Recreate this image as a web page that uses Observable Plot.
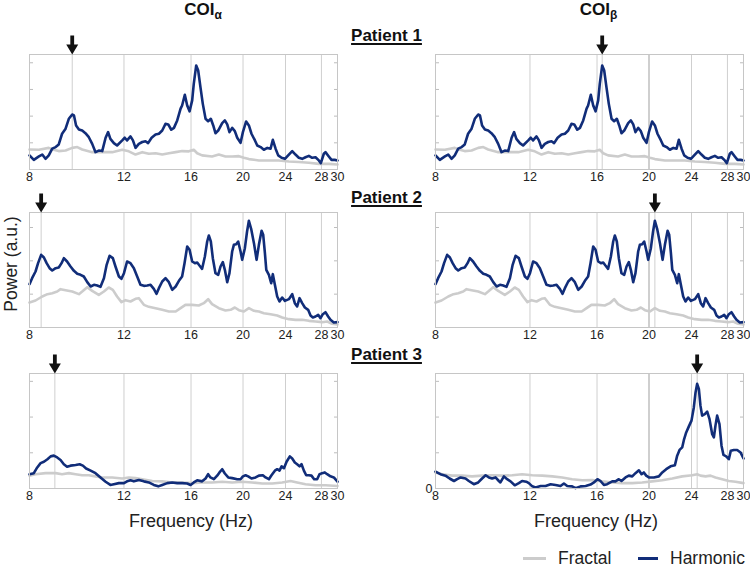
<!DOCTYPE html>
<html><head><meta charset="utf-8">
<script src="https://cdn.jsdelivr.net/npm/d3@7"></script>
<script src="https://cdn.jsdelivr.net/npm/@observablehq/plot@0.6"></script>
<style>
body{margin:0;background:#fff;}
#root{position:relative;width:750px;height:570px;font-family:"Liberation Sans",Arial,sans-serif;color:#222;overflow:hidden;background:#fff;}
.t{position:absolute;white-space:nowrap;line-height:1;}
.plot{position:absolute;}
</style></head><body><div id="root"></div>
<script>
// ---------- data ----------
const xTicks = [8, 12, 16, 20, 24, 28, 30];
const gridFreqs = [12, 16, 20, 24, 28];
const columnTitles = ["COI", "COI"];
const columnSubs = ["α", "β"];
const patientLabels = ["Patient 1", "Patient 2", "Patient 3"];
const seriesNames = ["Fractal", "Harmonic"];
const peaksAlpha = [9.61, 8.41, 8.92];
const peaksBeta = [16.36, 20.51, 24.59];

const p1Harmonic = [[8.00,0.53],[8.15,0.36],[8.33,0.49],[8.45,0.56],[8.57,0.40],[8.69,0.53],[8.82,0.78],[8.95,0.84],[9.07,0.94],[9.20,1.34],[9.34,1.53],[9.47,1.90],[9.61,2.06],[9.68,2.03],[9.77,1.65],[9.89,1.50],[10.03,1.46],[10.17,1.36],[10.32,1.21],[10.47,0.96],[10.62,0.65],[10.77,0.71],[10.93,0.69],[11.09,1.19],[11.21,1.40],[11.32,1.15],[11.49,0.99],[11.65,0.90],[11.91,1.09],[12.04,1.19],[12.16,1.09],[12.34,1.24],[12.47,1.09],[12.61,0.81],[12.79,0.96],[12.98,1.03],[13.16,1.06],[13.31,0.99],[13.51,1.19],[13.74,1.31],[13.94,1.34],[14.14,1.46],[14.34,1.71],[14.51,1.69],[14.70,1.49],[14.87,1.56],[15.08,1.84],[15.30,2.28],[15.40,2.40],[15.58,2.80],[15.74,2.40],[15.90,2.18],[16.08,2.59],[16.19,3.21],[16.36,3.90],[16.50,3.71],[16.66,3.09],[16.83,2.46],[17.03,1.90],[17.22,1.81],[17.42,1.90],[17.60,1.65],[17.77,1.36],[17.98,1.46],[18.29,1.74],[18.50,1.84],[18.69,1.69],[18.87,1.40],[19.09,1.56],[19.31,1.44],[19.51,1.19],[19.79,1.00],[19.99,1.40],[20.27,1.80],[20.51,1.65],[20.74,1.34],[21.05,1.09],[21.26,0.90],[21.57,0.84],[21.87,0.74],[22.20,0.81],[22.51,0.78],[22.73,1.11],[23.00,0.78],[23.26,0.53],[23.60,0.44],[23.94,0.40],[24.35,0.56],[24.70,0.69],[25.05,0.56],[25.41,0.44],[25.78,0.40],[26.15,0.46],[26.53,0.51],[26.91,0.44],[27.30,0.46],[27.69,0.34],[27.93,0.24],[28.29,0.59],[28.49,0.65],[28.90,0.49],[29.24,0.36],[29.66,0.36],[30.00,0.34]];
const p1Fractal = [[8.00,0.75],[8.33,0.74],[8.69,0.81],[8.88,0.74],[9.07,0.69],[9.34,0.71],[9.61,0.81],[9.82,0.84],[10.03,0.75],[10.47,0.65],[10.93,0.65],[11.41,0.65],[11.91,0.74],[12.25,0.68],[12.61,0.56],[12.98,0.65],[13.35,0.59],[13.74,0.61],[14.14,0.56],[14.55,0.61],[14.98,0.65],[15.40,0.69],[15.85,0.68],[16.19,0.74],[16.43,0.61],[16.78,0.53],[17.51,0.49],[18.03,0.56],[18.55,0.49],[19.09,0.49],[19.65,0.50],[20.08,0.44],[20.51,0.39],[21.41,0.34],[22.35,0.34],[23.33,0.34],[24.35,0.30],[25.41,0.28],[26.53,0.25],[27.69,0.21],[28.90,0.21],[30.00,0.19]];

const p2Harmonic = [[8.00,1.30],[8.09,1.48],[8.21,1.68],[8.30,1.93],[8.41,2.18],[8.51,2.10],[8.61,1.93],[8.72,1.78],[8.82,1.71],[8.95,1.78],[9.07,1.80],[9.18,1.93],[9.27,2.08],[9.40,1.98],[9.54,1.83],[9.68,1.70],[9.82,1.61],[9.96,1.58],[10.10,1.53],[10.25,1.36],[10.40,1.23],[10.55,1.28],[10.70,1.26],[10.85,1.22],[11.01,1.48],[11.14,1.88],[11.28,2.15],[11.44,2.08],[11.57,1.83],[11.74,1.53],[11.87,1.46],[12.00,1.63],[12.16,1.98],[12.34,1.93],[12.52,1.78],[12.70,1.53],[12.88,1.28],[13.07,1.25],[13.26,1.26],[13.45,1.28],[13.64,1.16],[13.80,1.01],[13.94,1.18],[14.14,1.38],[14.34,1.48],[14.55,1.36],[14.76,1.13],[14.98,1.23],[15.19,1.40],[15.40,1.53],[15.56,1.93],[15.74,2.43],[15.90,2.33],[16.08,1.98],[16.27,1.93],[16.43,1.95],[16.59,1.86],[16.78,1.76],[16.98,2.13],[17.15,2.58],[17.27,2.76],[17.42,2.58],[17.57,2.08],[17.77,1.63],[17.98,1.58],[18.16,1.83],[18.34,1.96],[18.50,1.73],[18.69,1.36],[18.87,1.63],[19.09,2.28],[19.23,2.48],[19.42,2.50],[19.59,2.58],[19.79,2.28],[19.93,2.03],[20.16,2.38],[20.35,2.88],[20.51,3.20],[20.71,2.96],[20.96,2.53],[21.20,2.03],[21.41,2.48],[21.66,2.90],[21.81,2.78],[21.97,2.23],[22.10,1.73],[22.35,1.58],[22.57,1.33],[22.73,1.60],[22.93,1.28],[23.16,0.93],[23.39,0.78],[23.66,0.90],[23.94,0.80],[24.35,0.85],[24.70,1.00],[24.98,0.73],[25.23,0.63],[25.49,0.88],[25.78,0.73],[26.08,0.60],[26.45,0.53],[26.72,0.36],[26.99,0.30],[27.30,0.33],[27.61,0.38],[27.89,0.28],[28.17,0.40],[28.49,0.46],[28.82,0.33],[29.11,0.23],[29.53,0.15],[30.00,0.16]];
const p2Fractal = [[8.00,0.75],[8.21,0.81],[8.45,0.93],[8.64,1.00],[8.82,1.03],[9.01,1.08],[9.14,1.15],[9.34,1.12],[9.61,1.08],[9.89,1.00],[10.03,1.08],[10.25,1.21],[10.47,1.10],[10.77,0.98],[11.01,1.08],[11.24,1.20],[11.44,1.13],[11.65,0.93],[11.87,0.76],[12.08,0.82],[12.34,0.78],[12.61,0.86],[12.79,0.88],[13.07,0.68],[13.35,0.62],[13.74,0.58],[14.14,0.53],[14.55,0.48],[14.98,0.48],[15.30,0.58],[15.62,0.68],[16.08,0.68],[16.54,0.66],[16.90,0.73],[17.22,0.85],[17.51,0.70],[18.03,0.58],[18.55,0.51],[18.96,0.53],[19.31,0.60],[19.65,0.52],[20.08,0.48],[20.51,0.58],[20.96,0.50],[21.41,0.48],[21.87,0.43],[22.51,0.40],[23.16,0.36],[23.66,0.30],[24.35,0.25],[25.05,0.23],[25.78,0.23],[26.53,0.20],[27.30,0.18],[28.09,0.16],[28.70,0.18],[29.32,0.11],[30.00,0.09]];

const p3AlphaHarmonic = [[8.00,0.40],[8.15,0.43],[8.27,0.59],[8.39,0.71],[8.51,0.75],[8.64,0.82],[8.76,0.90],[8.88,0.92],[9.01,0.87],[9.14,0.80],[9.27,0.68],[9.40,0.61],[9.54,0.64],[9.75,0.66],[9.92,0.68],[10.06,0.64],[10.20,0.56],[10.40,0.50],[10.62,0.43],[10.85,0.31],[11.09,0.19],[11.32,0.10],[11.49,0.12],[11.74,0.15],[12.00,0.15],[12.16,0.20],[12.34,0.23],[12.52,0.20],[12.79,0.24],[13.07,0.20],[13.35,0.17],[13.64,0.10],[13.90,0.06],[14.14,0.10],[14.45,0.15],[14.76,0.17],[15.08,0.15],[15.40,0.15],[15.74,0.14],[15.97,0.10],[16.19,0.17],[16.43,0.23],[16.78,0.20],[17.03,0.28],[17.22,0.40],[17.39,0.31],[17.65,0.26],[17.90,0.36],[18.08,0.45],[18.29,0.54],[18.50,0.42],[18.77,0.31],[19.09,0.29],[19.51,0.26],[19.79,0.26],[19.99,0.34],[20.22,0.37],[20.45,0.34],[20.74,0.28],[21.11,0.31],[21.41,0.36],[21.78,0.37],[22.03,0.31],[22.35,0.26],[22.60,0.37],[22.93,0.50],[23.16,0.54],[23.39,0.50],[23.60,0.62],[23.84,0.57],[24.11,0.75],[24.45,0.90],[24.70,0.84],[24.98,0.73],[25.23,0.68],[25.49,0.62],[25.71,0.68],[25.97,0.50],[26.23,0.37],[26.53,0.37],[26.83,0.36],[27.14,0.26],[27.49,0.26],[27.77,0.40],[28.09,0.43],[28.41,0.45],[28.70,0.40],[29.11,0.34],[29.53,0.31],[30.00,0.19]];
const p3AlphaFractal = [[8.00,0.36],[8.21,0.40],[8.57,0.43],[8.95,0.43],[9.20,0.40],[9.47,0.43],[9.75,0.40],[10.03,0.37],[10.32,0.37],[10.62,0.34],[10.93,0.31],[11.41,0.31],[11.91,0.28],[12.25,0.31],[12.61,0.29],[12.98,0.26],[13.55,0.21],[14.14,0.20],[14.76,0.17],[15.40,0.17],[16.08,0.15],[16.78,0.17],[17.51,0.17],[18.29,0.19],[19.09,0.17],[19.93,0.19],[20.80,0.17],[21.72,0.14],[22.67,0.14],[23.66,0.17],[24.52,0.21],[25.23,0.17],[26.15,0.12],[27.30,0.09],[28.49,0.09],[30.00,0.07]];

const p3BetaHarmonic = [[8.00,0.47],[8.17,0.40],[8.35,0.36],[8.50,0.28],[8.66,0.21],[8.78,0.26],[8.91,0.31],[9.10,0.28],[9.23,0.21],[9.43,0.12],[9.61,0.17],[9.77,0.28],[9.92,0.37],[10.06,0.31],[10.20,0.28],[10.35,0.31],[10.50,0.21],[10.57,0.17],[10.73,0.34],[10.88,0.26],[11.04,0.20],[11.24,0.09],[11.44,0.15],[11.60,0.21],[11.81,0.19],[11.94,0.15],[12.12,0.06],[12.29,0.03],[12.56,0.07],[12.83,0.07],[13.11,0.12],[13.39,0.10],[13.68,0.07],[13.88,0.14],[14.08,0.07],[14.38,0.06],[14.59,0.01],[14.91,0.06],[15.24,0.07],[15.56,0.11],[15.79,0.17],[16.03,0.26],[16.24,0.21],[16.48,0.10],[16.71,0.12],[17.08,0.20],[17.32,0.20],[17.57,0.26],[17.77,0.21],[18.08,0.31],[18.34,0.36],[18.61,0.34],[18.87,0.43],[19.15,0.51],[19.37,0.40],[19.56,0.45],[19.76,0.36],[19.99,0.31],[20.42,0.31],[20.86,0.34],[21.17,0.45],[21.53,0.54],[21.94,0.62],[22.35,0.65],[22.57,0.92],[22.80,1.08],[23.06,1.15],[23.23,1.36],[23.46,1.57],[23.73,1.74],[24.00,1.90],[24.24,2.27],[24.42,2.69],[24.59,2.93],[24.77,2.79],[24.94,2.32],[25.12,2.04],[25.41,2.08],[25.67,2.15],[25.93,1.94],[26.23,1.52],[26.42,1.43],[26.60,1.76],[26.79,2.04],[27.06,1.80],[27.30,1.20],[27.53,0.94],[27.85,0.90],[28.17,0.82],[28.41,1.06],[28.78,1.08],[29.20,1.08],[29.62,1.01],[30.00,0.84]];
const p3BetaFractal = [[8.00,0.45],[8.23,0.40],[8.59,0.36],[8.97,0.36],[9.36,0.34],[9.77,0.36],[10.20,0.37],[10.65,0.36],[11.12,0.37],[11.60,0.40],[12.12,0.37],[12.65,0.36],[13.21,0.34],[13.78,0.31],[14.38,0.26],[15.02,0.23],[15.67,0.24],[16.36,0.20],[17.08,0.17],[17.82,0.15],[18.61,0.15],[19.42,0.17],[20.27,0.20],[21.17,0.23],[22.10,0.28],[23.06,0.34],[24.07,0.37],[24.59,0.40],[24.94,0.36],[25.49,0.34],[26.04,0.36],[26.60,0.31],[27.38,0.26],[28.17,0.21],[28.99,0.19],[30.00,0.15]];

const rowYMax = [4.31, 3.45, 3.22];
const rowYTicks = [[1, 2, 3, 4], [1, 2, 3], [1, 2, 3]];

// ---------- styles / layout ----------
const harmonicColor = "#112d79";
const fractalColor = "#cccccc";
const gridColor = "#cfcfcf";
const FONT = '"Liberation Sans", Arial, sans-serif';
const W = 308, H = 115, ML = 14, MR = 14, MT = 24, MB = 22;
const colLeft = [29, 435];
const rowTop = [54, 212, 373];

const arrowSymbol = {
  draw(ctx) {
    ctx.moveTo(-1.9, -19);
    ctx.lineTo(1.9, -19);
    ctx.lineTo(1.9, -10);
    ctx.lineTo(6, -10);
    ctx.lineTo(0, 0);
    ctx.lineTo(-6, -10);
    ctx.lineTo(-1.9, -10);
    ctx.closePath();
  }
};

const root = document.getElementById("root");

function panel({harmonic, fractal, peak, yMax, yTicks, zeroLabel, wide20}) {
  const marks = [
    Plot.ruleX(gridFreqs, {stroke: gridColor, strokeWidth: 1}),
    Plot.ruleX([peak], {stroke: gridColor, strokeWidth: 1})
  ];
  if (wide20) marks.push(Plot.ruleX([20], {stroke: gridColor, strokeWidth: 2}));
  marks.push(
    Plot.axisY({ticks: yTicks, anchor: "right", frameAnchor: "left", tickSize: 3, fill: "none", stroke: "#bdbdbd", label: null}),
    Plot.axisY({ticks: yTicks, anchor: "left", frameAnchor: "right", tickSize: 3, fill: "none", stroke: "#bdbdbd", label: null}),
    Plot.line(fractal, {x: d => d[0], y: d => d[1], stroke: fractalColor, strokeWidth: 2.6}),
    Plot.line(harmonic, {x: d => d[0], y: d => d[1], stroke: harmonicColor, strokeWidth: 2.6}),
    Plot.frame({stroke: "#c6c6c6"}),
    Plot.axisX({ticks: xTicks, tickSize: 0, tickPadding: 3, tickFormat: d => String(d), fontSize: 12.5, fill: "#222", label: null}),
    Plot.dot([peak], {x: d => d, frameAnchor: "top", symbol: arrowSymbol, fill: "#111", stroke: "none"})
  );
  if (zeroLabel) marks.push(Plot.axisY({ticks: [0], anchor: "left", tickSize: 0, tickPadding: 3, tickFormat: d => String(d), fontSize: 12.5, fill: "#222", label: null}));
  return Plot.plot({
    width: W + ML + MR, height: H + MT + MB,
    marginLeft: ML, marginRight: MR, marginTop: MT, marginBottom: MB,
    x: {type: "log", domain: [8, 30]},
    y: {domain: [0, yMax]},
    clip: false,
    style: {fontFamily: FONT, background: "transparent", overflow: "visible", color: "#222"},
    marks
  });
}

const panels = [
  [{harmonic: p1Harmonic, fractal: p1Fractal, peak: peaksAlpha[0]}, {harmonic: p1Harmonic, fractal: p1Fractal, peak: peaksBeta[0]}],
  [{harmonic: p2Harmonic, fractal: p2Fractal, peak: peaksAlpha[1]}, {harmonic: p2Harmonic, fractal: p2Fractal, peak: peaksBeta[1]}],
  [{harmonic: p3AlphaHarmonic, fractal: p3AlphaFractal, peak: peaksAlpha[2]}, {harmonic: p3BetaHarmonic, fractal: p3BetaFractal, peak: peaksBeta[2], zeroLabel: true}]
];

panels.forEach((row, r) => row.forEach((p, c) => {
  const svg = panel({...p, yMax: rowYMax[r], yTicks: rowYTicks[r], wide20: c === 1});
  svg.classList.add("plot");
  svg.style.left = (colLeft[c] - ML) + "px";
  svg.style.top = (rowTop[r] - MT) + "px";
  root.appendChild(svg);
}));

function addText(html, x, y, css) {
  const d = document.createElement("div");
  d.className = "t";
  d.innerHTML = html;
  d.style.left = x + "px";
  d.style.top = y + "px";
  Object.assign(d.style, css || {});
  root.appendChild(d);
  return d;
}

// column titles
[203, 598.5].forEach((cx, i) => {
  addText(`${columnTitles[i]}<span style="font-size:12px;position:relative;top:3.5px">${columnSubs[i]}</span>`, cx, 1,
    {fontWeight: "bold", fontSize: "17px", transform: "translateX(-50%)", color: "#111"});
});
// patient labels
[27, 189, 346].forEach((y, i) => {
  addText(patientLabels[i], 386.5, y, {fontWeight: "bold", fontSize: "17px", transform: "translateX(-50%)",
    textDecoration: "underline", textUnderlineOffset: "2px", textDecorationThickness: "1.5px", color: "#111"});
});
// axis labels
[191, 596].forEach(cx => addText("Frequency (Hz)", cx, 512.3, {fontSize: "18px", transform: "translateX(-50%)"}));
addText("Power (a.u.)", 12, 264, {fontSize: "17.5px", transform: "translate(-50%,-50%) rotate(-90deg)"});

// legend
function swatch(x1, x2, color) {
  const d = document.createElement("div");
  Object.assign(d.style, {position: "absolute", left: x1 + "px", top: "556.5px", width: (x2 - x1) + "px", height: "3px", background: color});
  root.appendChild(d);
}
swatch(523, 546, fractalColor);
addText(seriesNames[0], 558, 549.5, {fontSize: "17.5px"});
swatch(638, 658, harmonicColor);
addText(seriesNames[1], 670, 549.5, {fontSize: "17.5px"});
</script></body></html>
